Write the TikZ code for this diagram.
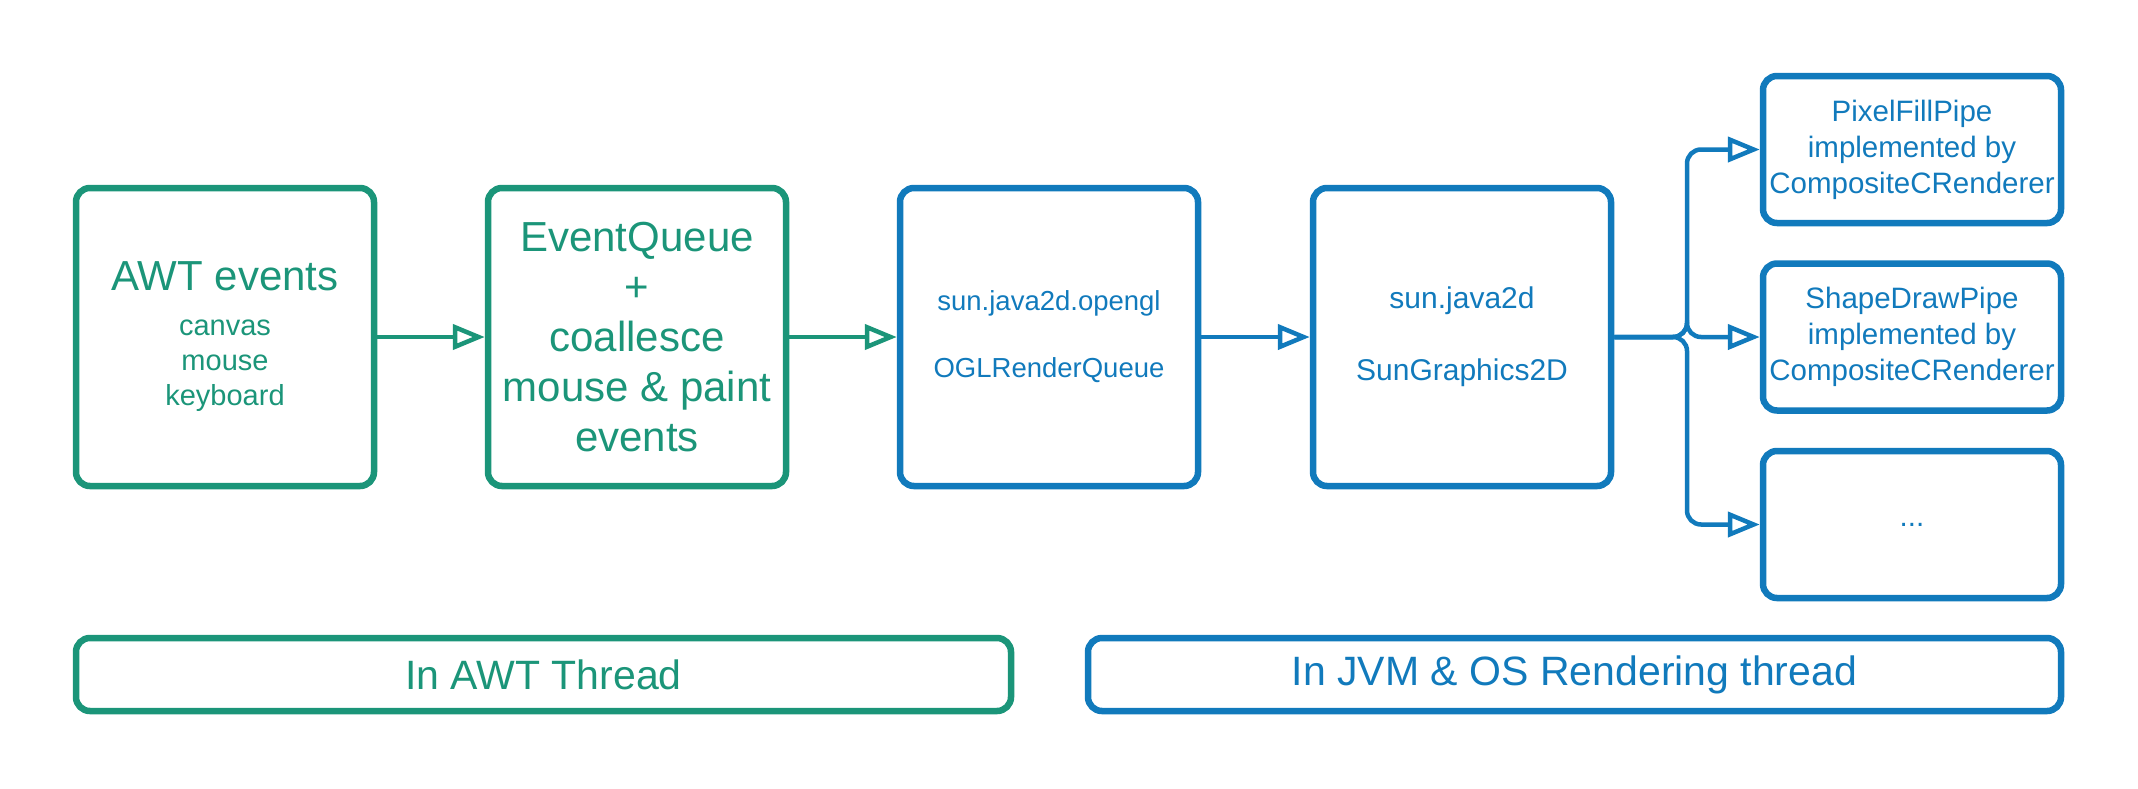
\documentclass[tikz,border=0pt]{standalone}
\usepackage{fontspec}
\setmainfont{Liberation Sans}
\usetikzlibrary{positioning}
\usetikzlibrary{calc}
\usetikzlibrary{arrows.meta}
\definecolor{awtgreen}{RGB}{27,149,121}
\definecolor{jvmblue}{RGB}{17,122,188}

\begin{document}
\begin{tikzpicture}[x=1pt, y=-1pt,
    box/.style={draw, line width=6.5pt, rounded corners=14pt, inner sep=0pt, align=center},
    greenbox/.style={box, draw=awtgreen, text=awtgreen},
    bluebox/.style={box, draw=jvmblue, text=jvmblue},
    stage/.style={minimum width=298pt, minimum height=298pt},
    pipe/.style={minimum width=298pt, minimum height=147pt},
    flow/.style={line width=4.5pt, -{Triangle[open, length=32pt, width=25pt]}}]
    \useasboundingbox (0,0) rectangle (2138,788);

    % processing stages
    \node[greenbox, stage, font=\fontsize{29}{35}\selectfont] (awt) at (225,337)
        {{\fontsize{42}{50}\selectfont AWT events}\\[10pt]canvas\\mouse\\keyboard};
    \node[greenbox, stage, font=\fontsize{42}{50}\selectfont] (queue) at (637,337)
        {EventQueue\\+\\coallesce\\mouse \& paint\\events};
    \node[bluebox, stage, font=\fontsize{27.5}{33.5}\selectfont] (ogl) at (1049,337)
        {sun.java2d.opengl\\[33.5pt]OGLRenderQueue};
    \node[bluebox, stage, font=\fontsize{30}{36}\selectfont] (sung2d) at (1462,337)
        {sun.java2d\\[36pt]SunGraphics2D};

    % rendering pipes
    \node[bluebox, pipe, font=\fontsize{29.5}{36}\selectfont] (pixfill) at (1912,149.5)
        {PixelFillPipe\\implemented by\\CompositeCRenderer};
    \node[bluebox, pipe, font=\fontsize{29.5}{36}\selectfont] (shapedraw) at (1912,337)
        {ShapeDrawPipe\\implemented by\\CompositeCRenderer};
    \node[bluebox, pipe, font=\fontsize{29.5}{36}\selectfont] (more) at (1912,524.5) {...};

    % threads
    \node[greenbox, minimum width=935pt, minimum height=73pt, font=\fontsize{41}{48}\selectfont]
        (awtthread) at (543.5,674.5) {In AWT Thread};
    \node[bluebox, minimum width=973pt, minimum height=73pt, font=\fontsize{41}{48}\selectfont]
        (jvmthread) at (1574.5,674.5) {In JVM \& OS Rendering thread};

    \draw[flow, awtgreen] (awt) -- (queue);
    \draw[flow, awtgreen] (queue) -- (ogl);
    \draw[flow, jvmblue] (ogl) -- (sung2d);
    \foreach \t in {pixfill, shapedraw, more} {
        \draw[flow, jvmblue, rounded corners=14pt]
            (sung2d.east) -- ($(sung2d.east)!.5!(shapedraw.west)$) |- (\t.west);
    }
\end{tikzpicture}
\end{document}
